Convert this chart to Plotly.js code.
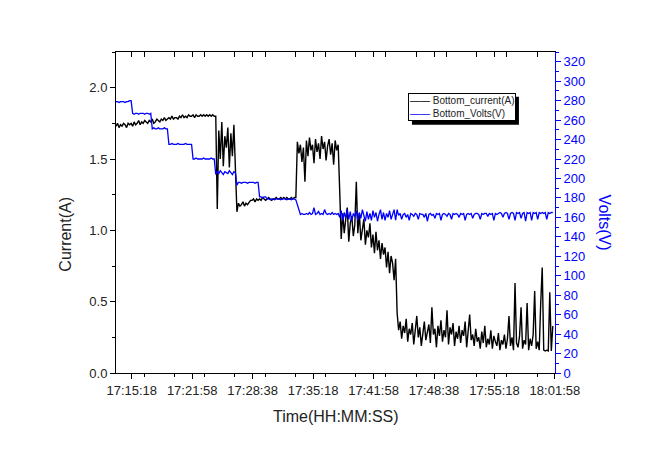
<!DOCTYPE html>
<html>
<head>
<meta charset="utf-8">
<script src="https://cdn.plot.ly/plotly-3.0.1.min.js"></script>
<style>
  html, body { margin: 0; padding: 0; background: #fff; }
  #chart { width: 645px; height: 450px; }
</style>
</head>
<body>
<div id="chart"></div>
<script>
// logger samples, one every 10 s from 17:13:34
const startClock = '17:13:34';
const sampleStepSec = 10;
const seriesNames = ['Bottom_current(A)', 'Bottom_Volts(V)'];

const currentA = [
  1.73,1.75,1.72,1.74,1.73,1.75,1.74,1.72,1.75,1.74,
  1.75,1.73,1.76,1.74,1.75,1.77,1.74,1.76,1.75,1.77,
  1.76,1.75,1.77,1.76,1.78,1.75,1.76,1.78,1.77,1.76,
  1.78,1.77,1.79,1.77,1.78,1.79,1.78,1.80,1.78,1.79,
  1.79,1.78,1.80,1.79,1.81,1.79,1.80,1.79,1.81,1.80,
  1.80,1.81,1.79,1.81,1.80,1.80,1.81,1.80,1.81,1.80,
  1.81,1.80,1.81,1.80,1.81,1.80,1.80,
  1.15,1.70,1.50,1.76,1.45,1.66,1.58,1.72,1.44,1.68,1.52,1.74,1.40,
  1.13,1.19,1.17,1.18,1.20,1.17,1.19,1.18,1.20,1.21,
  1.21,1.22,1.20,1.22,1.21,1.22,1.21,1.23,1.22,1.21,
  1.22,1.23,1.22,1.21,1.22,1.22,1.23,1.22,1.22,1.23,
  1.22,1.23,1.22,1.23,1.22,1.22,1.23,1.22,1.23,1.23,
  1.62,1.54,1.60,1.48,1.58,1.34,1.63,1.52,1.65,1.56,
  1.60,1.47,1.64,1.55,1.61,1.50,1.66,1.57,1.62,1.49,
  1.59,1.64,1.53,1.61,1.46,1.63,1.56,1.60,
  1.28,0.94,1.12,0.98,1.08,1.16,0.92,1.05,1.10,0.96,
  1.04,1.34,0.98,1.12,0.93,1.02,1.08,0.90,1.00,0.95,
  1.05,0.88,0.97,0.84,0.99,0.86,0.93,0.80,0.91,0.83,
  0.88,0.74,0.85,0.70,0.82,0.77,0.65,0.80,
  0.42,0.30,0.36,0.24,0.33,0.28,0.38,0.22,0.31,0.27,
  0.35,0.20,0.29,0.40,0.25,0.32,0.19,0.30,0.36,0.23,
  0.28,0.34,0.21,0.46,0.27,0.31,0.18,0.33,0.26,0.37,
  0.22,0.30,0.25,0.44,0.20,0.32,0.27,0.35,0.19,0.29,
  0.24,0.33,0.21,0.30,0.26,0.36,0.18,0.28,0.41,0.23,
  0.27,0.19,0.31,0.22,0.25,0.17,0.29,0.21,0.33,0.18,
  0.24,0.20,0.30,0.17,0.26,0.22,0.19,0.28,0.16,0.23,
  0.20,0.27,0.17,0.24,0.40,0.19,0.25,0.16,0.63,0.21,
  0.18,0.26,0.46,0.17,0.23,0.20,0.49,0.16,0.24,0.19,
  0.27,0.575,0.17,0.22,0.16,0.49,0.74,0.16,0.155,0.16,
  0.155,0.565,0.155,0.33
];

const voltsV = [
  279,279,278,279,279,279,278,279,279,280,280,
  267,266,267,267,266,267,267,267,266,267,267,266,267,
  251,252,251,251,252,251,251,251,252,251,251,
  235,235,236,235,235,235,236,235,235,235,235,236,235,235,235,235,
  220,220,221,220,220,220,220,221,220,220,220,220,221,220,220,
  204,207,205,208,206,204,207,206,205,208,206,204,207,206,
  193,196,196,195,196,196,196,195,196,196,196,196,195,196,196,
  181,181,180,181,181,179,179,178,179,179,178,179,179,179,178,
  179,179,179,178,179,179,178,179,179,178,
  172,166,163,164,163,163,164,163,165,163,164,170,163,164,166,
  163,164,163,168,164,163,164,163,165,163,164,163,164,
  160,167,157,165,159,168,158,166,156,164,
  161,167,157,165,159,168,160,156,166,158,
  164,157,167,160,165,156,163,168,158,165,
  157,164,160,167,158,163,168,157,
  168,162,164,158,163,164,160,163,157,164,
  163,161,164,163,158,164,163,163,160,164,
  156,163,164,162,163,159,164,163,164,157,
  163,164,163,161,164,163,158,164,163,164,
  163,160,164,163,164,157,163,164,163,164,
  159,163,164,164,163,158,164,163,164,164,
  161,164,163,164,157,164,163,164,165,164,
  160,164,165,164,158,164,165,164,157,165,
  164,165,159,164,165,156,165,164,165,157,
  165,164,165,158,165,164,165,164,165,158,
  165,164,165,165
];

// turn sample index into a clock time string for the date axis
function clockAt(index) {
  const p = startClock.split(':').map(Number);
  let s = p[0] * 3600 + p[1] * 60 + p[2] + index * sampleStepSec;
  const hh = String(Math.floor(s / 3600)).padStart(2, '0');
  const mm = String(Math.floor((s % 3600) / 60)).padStart(2, '0');
  const ss = String(s % 60).padStart(2, '0');
  return '2024-01-01 ' + hh + ':' + mm + ':' + ss;
}
const times = currentA.map((_, i) => clockAt(i));

const xRange = ['2024-01-01 17:13:34', '2024-01-01 18:01:58.5'];
const blue = '#0000ff';

const traces = [
  {
    x: times, y: currentA, name: seriesNames[0],
    type: 'scatter', mode: 'lines',
    line: { color: '#000000', width: 1.4 }
  },
  {
    x: times, y: voltsV, name: seriesNames[1],
    type: 'scatter', mode: 'lines', xaxis: 'x2', yaxis: 'y2',
    line: { color: blue, width: 1.3 }
  }
];

// Origin style legend box (two text lines, dropped shadow)
const legendX = 0.665, legendY = 0.873;
const plotW = 439, plotH = 321;
const legendText =
  '<span style="color:#000">——</span> ' + seriesNames[0] + '<br>' +
  '<span style="color:' + blue + '">——</span> ' + seriesNames[1];

const layout = {
  width: 645, height: 450,
  margin: { l: 116, r: 90, t: 52, b: 77 },
  paper_bgcolor: '#ffffff', plot_bgcolor: '#ffffff',
  font: { family: 'Arial, "Liberation Sans", sans-serif', size: 13, color: '#222' },
  showlegend: false,
  xaxis: {
    type: 'date', range: xRange,
    tickformat: '%H:%M:%S', tick0: '2024-01-01 17:15:18', dtick: 400000,
    ticks: 'outside', ticklen: 5, tickcolor: '#000',
    showline: true, linecolor: '#000', linewidth: 1,
    showgrid: false, zeroline: false,
    minor: { dtick: 200000, ticks: 'outside', ticklen: 3, tickcolor: '#000', showgrid: false }
  },
  xaxis2: {
    type: 'date', range: xRange, overlaying: 'x', side: 'top', anchor: 'y2',
    tick0: '2024-01-01 17:15:18', dtick: 400000,
    ticks: 'inside', ticklen: 5, tickcolor: '#000', showticklabels: false,
    showline: true, linecolor: '#000', linewidth: 1,
    showgrid: false, zeroline: false,
    minor: { dtick: 200000, ticks: 'inside', ticklen: 5, tickcolor: '#000', showgrid: false }
  },
  yaxis: {
    range: [0, 2.25], dtick: 0.5, tickformat: '.1f',
    ticks: 'outside', ticklen: 5, tickcolor: '#000',
    showline: true, linecolor: '#000', linewidth: 1,
    showgrid: false, zeroline: false,
    minor: { dtick: 0.25, ticks: 'outside', ticklen: 3, tickcolor: '#000', showgrid: false }
  },
  yaxis2: {
    range: [0, 330], dtick: 20, overlaying: 'y', side: 'right', anchor: 'x2',
    ticks: 'outside', ticklen: 5, tickcolor: blue,
    showline: true, linecolor: blue, linewidth: 1,
    tickfont: { color: blue, size: 13 },
    showgrid: false, zeroline: false,
    minor: { dtick: 10, ticks: 'outside', ticklen: 3, tickcolor: blue, showgrid: false }
  },
  shapes: [
    // drop shadow of the legend box
    { type: 'rect', xref: 'paper', yref: 'paper', layer: 'above',
      x0: legendX + 4 / plotW, x1: legendX + 111 / plotW,
      y0: legendY - 32 / plotH, y1: legendY - 4 / plotH,
      fillcolor: '#000', line: { width: 0 } }
  ],
  annotations: [
    { text: 'Time(HH:MM:SS)', xref: 'paper', yref: 'paper', x: 0.5, y: -0.135,
      xanchor: 'center', yanchor: 'middle', showarrow: false,
      font: { size: 16, color: '#222' } },
    { text: 'Current(A)', xref: 'paper', yref: 'paper', x: -0.114, y: 0.434,
      xanchor: 'center', yanchor: 'middle', showarrow: false, textangle: -90,
      font: { size: 16, color: '#222' } },
    { text: 'Volts(V)', xref: 'paper', yref: 'paper', x: 1.112, y: 0.468,
      xanchor: 'center', yanchor: 'middle', showarrow: false, textangle: 90,
      font: { size: 16, color: blue } },
    { text: legendText, xref: 'paper', yref: 'paper', x: legendX, y: legendY,
      xanchor: 'left', yanchor: 'top', align: 'left', showarrow: false,
      bgcolor: '#fff', bordercolor: '#000', borderwidth: 1, borderpad: 1,
      font: { size: 10, color: '#222' } }
  ]
};

Plotly.newPlot('chart', traces, layout, { displayModeBar: false, staticPlot: true });
</script>
</body>
</html>
